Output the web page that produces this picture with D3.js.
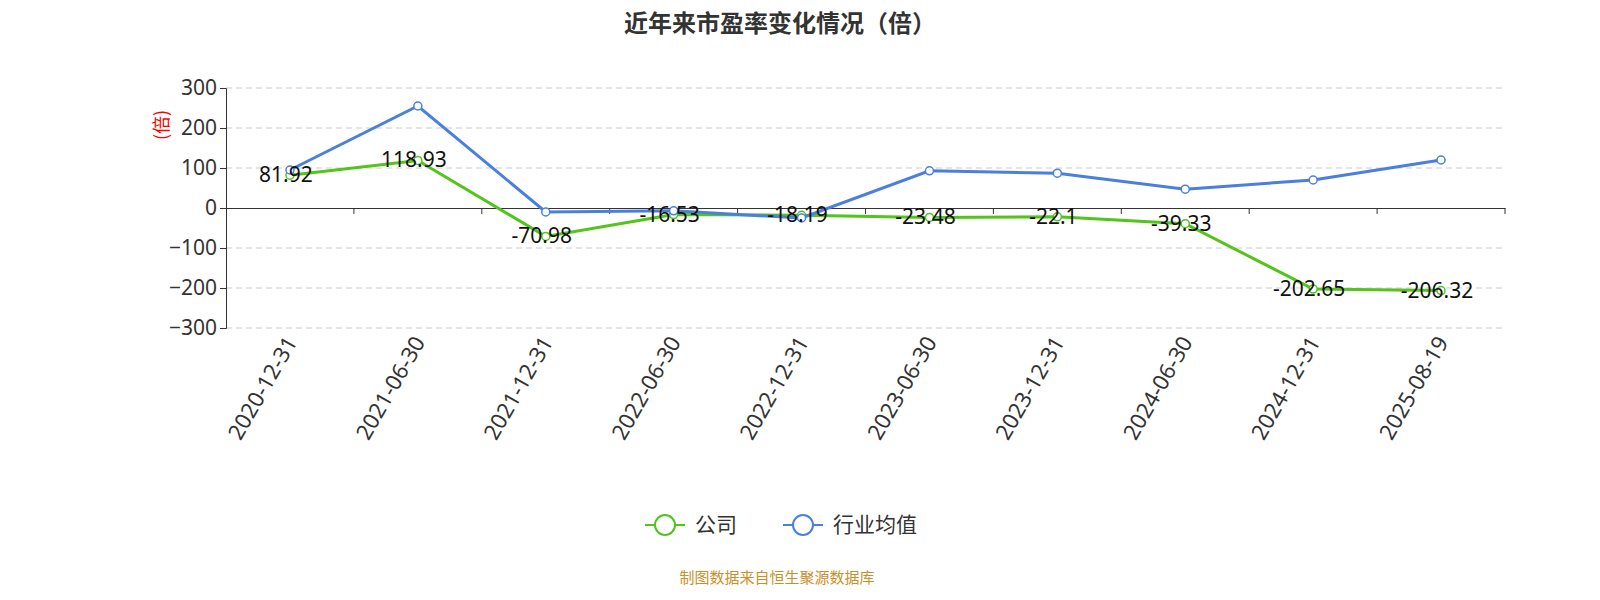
<!DOCTYPE html>
<html><head><meta charset="utf-8">
<script src="https://cdn.jsdelivr.net/npm/d3@7/dist/d3.min.js"></script>
<style>body{margin:0;background:#fff;font-family:"Noto Sans CJK SC","Noto Sans",sans-serif;}</style>
</head><body><svg id="c" width="1600" height="600"></svg>
<script>
const categories=["2020-12-31","2021-06-30","2021-12-31","2022-06-30","2022-12-31","2023-06-30","2023-12-31","2024-06-30","2024-12-31","2025-08-19"];
const company=[81.92,118.93,-70.98,-16.53,-18.19,-23.48,-22.1,-39.33,-202.65,-206.32];
const industry=[95,255,-10,-7,-25,93,87,47,70,120];
const yTicks=[-300,-200,-100,0,100,200,300];
const svg=d3.select("#c");
const x=d3.scaleBand().domain(categories).range([226,1505]);
const y=d3.scaleLinear().domain([-300,300]).range([328,88]);
const cx=d=>x(d)+x.bandwidth()/2;
svg.append("text").attr("x",780).attr("y",32).attr("text-anchor","middle").attr("font-size",24).attr("font-weight","bold").attr("fill","#333").text("近年来市盈率变化情况（倍）");
svg.selectAll(".g").data(yTicks.filter(t=>t!==0)).enter().append("line").attr("x1",226).attr("x2",1505).attr("y1",d=>y(d)).attr("y2",d=>y(d)).attr("stroke","#ccc").attr("stroke-dasharray","6,4");
const ya=svg.append("g").attr("transform","translate(226,0)").call(d3.axisLeft(y).tickValues(yTicks).tickSize(6));
ya.selectAll("text").attr("font-size",21).attr("fill","#333").attr("font-family","Noto Sans");
ya.selectAll("line,path").attr("stroke","#333");
const xa=svg.append("g").attr("transform",`translate(0,${y(0)})`).call(d3.axisBottom(x).tickSize(0).tickFormat(""));
xa.select("path").attr("stroke","#333");
svg.selectAll(".xt").data(categories).enter().append("line").attr("x1",(d,i)=>226+x.step()*(i+1)).attr("x2",(d,i)=>226+x.step()*(i+1)).attr("y1",y(0)).attr("y2",y(0)+6).attr("stroke","#333");
svg.selectAll(".xl").data(categories).enter().append("text").attr("transform",d=>`translate(${cx(d)+8},${342}) rotate(-60)`).attr("text-anchor","end").attr("font-size",22).attr("fill","#333").attr("font-family","Noto Sans").text(d=>d);
svg.append("text").attr("transform","translate(168,125) rotate(-90)").attr("text-anchor","middle").attr("font-size",18).attr("fill","red").text("(倍)");
const line=d3.line().x((d,i)=>cx(categories[i])).y(d=>y(d));
function series(data,color){
 svg.append("path").datum(data).attr("d",line).attr("fill","none").attr("stroke",color).attr("stroke-width",3);
 svg.selectAll(null).data(data).enter().append("circle").attr("cx",(d,i)=>cx(categories[i])).attr("cy",d=>y(d)).attr("r",4).attr("fill","#fff").attr("stroke",color).attr("stroke-width",1.5);
}
series(company,"#52c41a");
series(industry,"#4a7fe0");
svg.selectAll(".lb").data(company).enter().append("text").attr("x",(d,i)=>cx(categories[i])-4).attr("y",d=>y(d)+7).attr("text-anchor","middle").attr("font-size",21).attr("fill","#111").attr("font-family","Noto Sans").text(d=>d);
const lg=[["公司","#52c41a",645],["行业均值","#4a7fe0",783]];
lg.forEach(([t,c,lx])=>{
 svg.append("line").attr("x1",lx).attr("x2",lx+40).attr("y1",525).attr("y2",525).attr("stroke",c).attr("stroke-width",2);
 svg.append("circle").attr("cx",lx+20).attr("cy",525).attr("r",10).attr("fill","#fff").attr("stroke",c).attr("stroke-width",2);
 svg.append("text").attr("x",lx+50).attr("y",532).attr("font-size",21).attr("fill","#333").text(t);
});
svg.append("text").attr("x",777).attr("y",583).attr("text-anchor","middle").attr("font-size",15).attr("fill","#c8902a").text("制图数据来自恒生聚源数据库");
</script></body></html>
